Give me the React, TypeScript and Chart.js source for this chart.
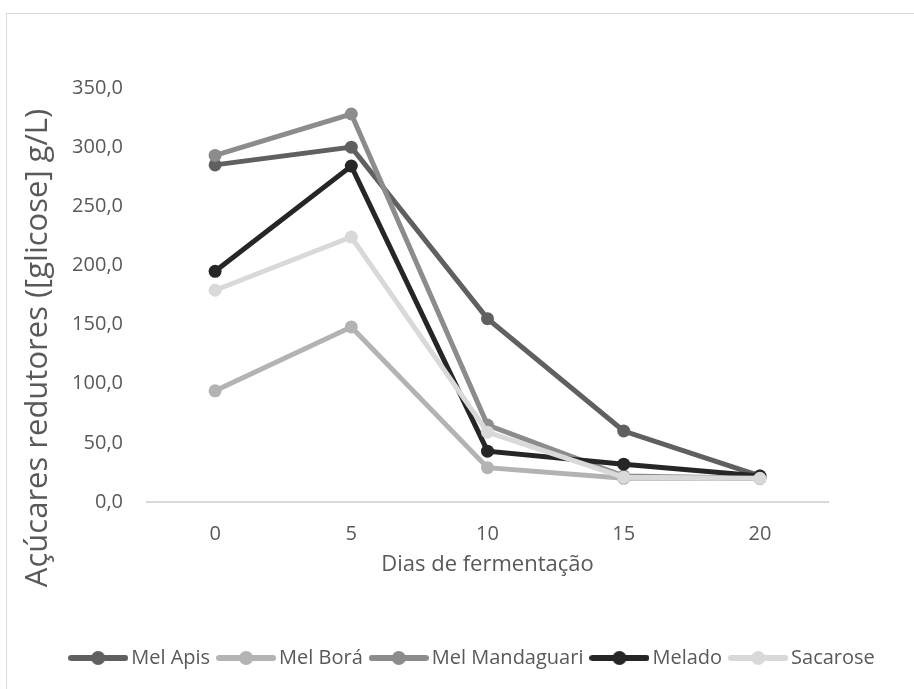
import React, { useEffect, useRef } from "react";
import { Chart, registerables } from "chart.js";

Chart.register(...registerables);

const categories = ["0", "5", "10", "15", "20"];
const seriesNames = ["Mel Apis", "Mel Borá", "Mel Mandaguari", "Melado", "Sacarose"];
const melApis = [285, 300, 155, 60, 22];
const melBora = [94, 148, 29, 20, 20];
const melMandaguari = [293, 328, 65, 22, 20];
const melado = [195, 284, 43, 32, 22];
const sacarose = [179, 224, 59, 21, 20];
const seriesColors = ["#606060", "#b3b3b3", "#8c8c8c", "#262626", "#d9d9d9"];
const yTicks = { min: 0, max: 350, step: 50 };
const xTitle = "Dias de fermentação";
const yTitle = "Açúcares redutores ([glicose] g/L)";

const FONT = "'Open Sans', sans-serif";
const TEXT = "#595959";

function legendIcon(color: string): HTMLCanvasElement {
  const c = document.createElement("canvas");
  c.width = 60;
  c.height = 16;
  const ctx = c.getContext("2d")!;
  ctx.strokeStyle = color;
  ctx.fillStyle = color;
  ctx.lineWidth = 6;
  ctx.lineCap = "round";
  ctx.beginPath();
  ctx.moveTo(3, 8);
  ctx.lineTo(57, 8);
  ctx.stroke();
  ctx.beginPath();
  ctx.arc(30, 8, 7, 0, Math.PI * 2);
  ctx.fill();
  return c;
}

const yTitlePlugin = {
  id: "yTitlePlugin",
  afterDraw(chart: any) {
    const ctx = chart.ctx;
    ctx.save();
    ctx.translate(38, 348);
    ctx.rotate(-Math.PI / 2);
    ctx.font = `31px ${FONT}`;
    ctx.fillStyle = TEXT;
    ctx.textAlign = "center";
    ctx.textBaseline = "middle";
    ctx.fillText(yTitle, 0, 0);
    ctx.restore();
  },
};

export default function App() {
  const ref = useRef<HTMLCanvasElement>(null);

  useEffect(() => {
    if (!ref.current) return;
    const allData = [melApis, melBora, melMandaguari, melado, sacarose];
    const datasets = allData.map((d, i) => ({
      label: seriesNames[i],
      data: d,
      borderColor: seriesColors[i],
      backgroundColor: seriesColors[i],
      pointBackgroundColor: seriesColors[i],
      pointBorderColor: seriesColors[i],
      pointBorderWidth: 0,
      pointRadius: 6.5,
      pointHoverRadius: 6.5,
      borderWidth: 5,
      tension: 0,
      fill: false,
      order: allData.length - i,
    }));
    const chart = new Chart(ref.current, {
      type: "line",
      data: { labels: categories, datasets },
      options: {
        animation: false,
        responsive: false,
        devicePixelRatio: 1,
        layout: { padding: { left: 36, top: 88, right: 0, bottom: 11 } },
        plugins: {
          tooltip: { enabled: false },
          title: { display: false },
          legend: {
            display: true,
            position: "bottom",
            align: "center",
            labels: {
              usePointStyle: true,
              pointStyleWidth: 46,
              padding: 13,
              color: TEXT,
              font: { size: 20, family: FONT },
              generateLabels: (ch: any) =>
                ch.data.datasets.map((ds: any, i: number) => ({
                  text: ds.label,
                  pointStyle: legendIcon(seriesColors[i]),
                  fillStyle: seriesColors[i],
                  strokeStyle: seriesColors[i],
                  lineWidth: 0,
                  hidden: false,
                  datasetIndex: i,
                  fontColor: TEXT,
                })),
            },
          },
        },
        scales: {
          x: {
            type: "category",
            offset: true,
            grid: { display: false, drawTicks: false },
            border: { display: true, color: "#d9d9d9", width: 2 },
            ticks: { color: TEXT, font: { size: 20, family: FONT }, padding: 20 },
            title: {
              display: true,
              text: xTitle,
              color: TEXT,
              font: { size: 22, family: FONT },
              padding: { top: 0, bottom: 57 },
            },
            afterFit: (s: any) => {
              s.height = 133;
            },
          },
          y: {
            type: "linear",
            position: "left",
            min: yTicks.min,
            max: yTicks.max,
            grid: { display: false, drawTicks: false },
            border: { display: false },
            ticks: {
              stepSize: yTicks.step,
              color: TEXT,
              font: { size: 20, family: FONT },
              padding: 24,
              callback: (v: any) => Number(v).toFixed(1).replace(".", ","),
            },
            afterFit: (s: any) => {
              s.width = 111;
            },
          },
          yRight: {
            type: "linear",
            position: "right",
            display: true,
            grid: { display: false, drawTicks: false },
            border: { display: false },
            ticks: { display: false },
            afterFit: (s: any) => {
              s.width = 86;
            },
          },
        },
      },
      plugins: [yTitlePlugin],
    });
    return () => chart.destroy();
  }, []);

  return (
    <div
      style={{
        position: "fixed",
        left: 0,
        top: 0,
        width: 914,
        height: 689,
        overflow: "hidden",
        background: "#fff",
      }}
    >
      <div
        style={{
          position: "absolute",
          left: 6,
          top: 13,
          width: 2000,
          height: 2000,
          border: "1px solid #d9d9d9",
        }}
      />
      <canvas
        ref={ref}
        width={914}
        height={689}
        style={{ position: "absolute", left: 0, top: 0, width: 914, height: 689 }}
      />
    </div>
  );
}
